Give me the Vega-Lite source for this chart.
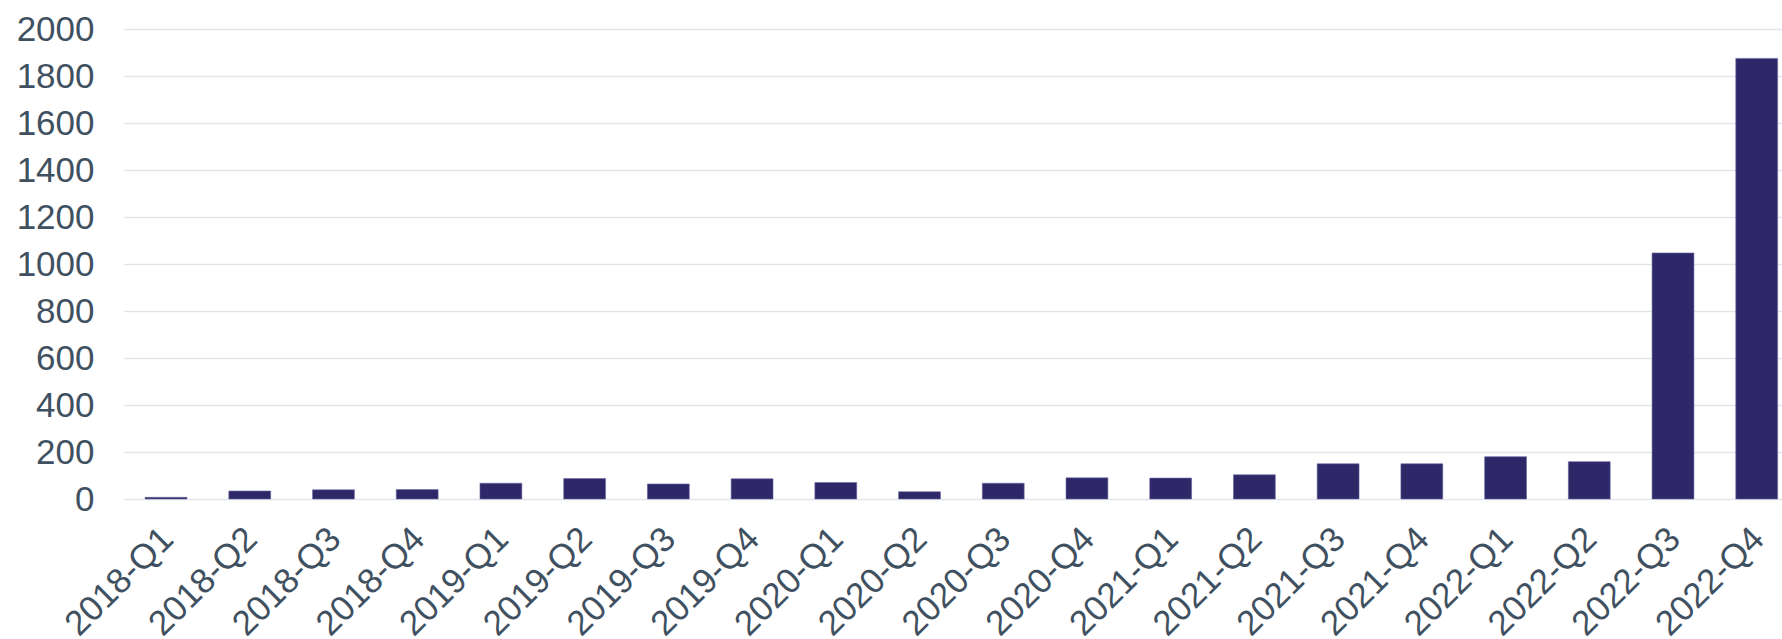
{
  "$schema": "https://vega.github.io/schema/vega-lite/v6.json",
  "autosize": {"type": "none"},
  "padding": {"left": 124, "top": 29, "right": 0, "bottom": 140},
  "width": 1658,
  "height": 470,
  "background": "white",
  "data": {
    "values": [
      {"quarter": "2018-Q1", "value": 7},
      {"quarter": "2018-Q2", "value": 34},
      {"quarter": "2018-Q3", "value": 39},
      {"quarter": "2018-Q4", "value": 40},
      {"quarter": "2019-Q1", "value": 67},
      {"quarter": "2019-Q2", "value": 87},
      {"quarter": "2019-Q3", "value": 64},
      {"quarter": "2019-Q4", "value": 86},
      {"quarter": "2020-Q1", "value": 70},
      {"quarter": "2020-Q2", "value": 31},
      {"quarter": "2020-Q3", "value": 67},
      {"quarter": "2020-Q4", "value": 90},
      {"quarter": "2021-Q1", "value": 89},
      {"quarter": "2021-Q2", "value": 103},
      {"quarter": "2021-Q3", "value": 150},
      {"quarter": "2021-Q4", "value": 150},
      {"quarter": "2022-Q1", "value": 180},
      {"quarter": "2022-Q2", "value": 159},
      {"quarter": "2022-Q3", "value": 1047},
      {"quarter": "2022-Q4", "value": 1875}
    ]
  },
  "mark": {"type": "bar", "color": "#2E2869", "stroke": "#6A66A0", "strokeWidth": 0.6},
  "encoding": {
    "x": {
      "field": "quarter",
      "type": "ordinal",
      "sort": null,
      "title": null,
      "scale": {"paddingInner": 0.5, "paddingOuter": 0.152, "align": 0.829, "round": false},
      "axis": {
        "labelAngle": -45,
        "labelAlign": "right",
        "labelBaseline": "middle",
        "labelFont": "Liberation Sans",
        "labelFontSize": 35,
        "labelColor": "#3F5161",
        "labelPadding": 34,
        "labelOffset": 1.5,
        "ticks": false,
        "tickSize": 0,
        "domain": false,
        "grid": false
      }
    },
    "y": {
      "field": "value",
      "type": "quantitative",
      "title": null,
      "scale": {"domain": [0, 2000], "nice": false},
      "axis": {
        "values": [0, 200, 400, 600, 800, 1000, 1200, 1400, 1600, 1800, 2000],
        "format": "d",
        "labelFont": "Liberation Sans",
        "labelFontSize": 35,
        "labelColor": "#3F5161",
        "labelPadding": 30,
        "ticks": false,
        "tickSize": 0,
        "domain": false,
        "grid": true,
        "gridColor": "#E1E5EB",
        "gridWidth": 1.4
      }
    }
  },
  "config": {"view": {"stroke": null}}
}
